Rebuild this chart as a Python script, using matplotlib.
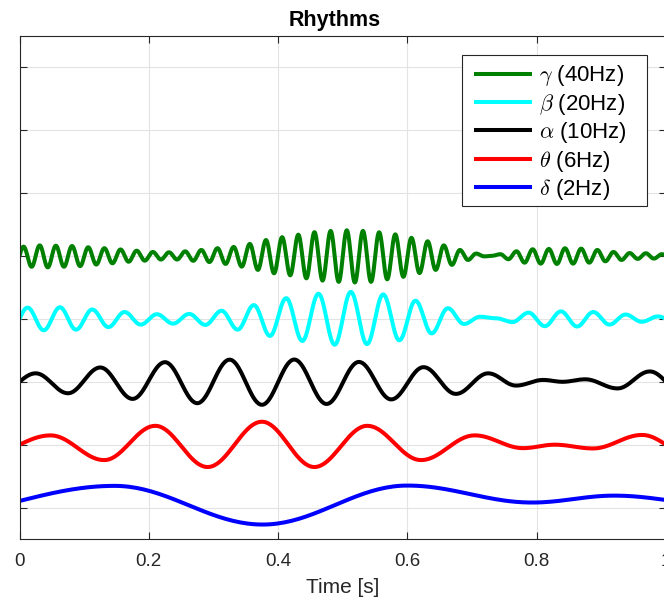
import numpy as np
import matplotlib
matplotlib.use("Agg")
import matplotlib.pyplot as plt
from matplotlib.patches import Rectangle

# ---------------- data ----------------
labels = [r"$\gamma$ (40Hz)", r"$\beta$ (20Hz)", r"$\alpha$ (10Hz)",
          r"$\theta$ (6Hz)", r"$\delta$ (2Hz)"]
colors = ["#008000", "#00ffff", "#000000", "#ff0000", "#0000ff"]
offsets = [5, 4, 3, 2, 1]

# gamma: signed extremum values at every half cycle of 40 Hz
gamma_freq = 40
gamma_extrema = [
    0.15, -0.17, 0.17, -0.18, 0.165, -0.17, 0.16, -0.16, 0.14, -0.135,
    0.125, -0.115, 0.105, -0.09, 0.085, -0.073, 0.065, -0.055, 0.06, -0.055,
    0.075, -0.075, 0.097, -0.095, 0.125, -0.125, 0.145, -0.168, 0.193, -0.22,
    0.255, -0.274, 0.30, -0.306, 0.34, -0.354, 0.38, -0.39, 0.40, -0.41,
    0.41, -0.42, 0.40, -0.41, 0.378, -0.37, 0.345, -0.33, 0.29, -0.27,
    0.235, -0.22, 0.17, -0.14, 0.097, -0.062, 0.04, -0.005, 0.005, 0.03,
    -0.05, 0.076, -0.105, 0.108, -0.12, 0.113, -0.125, 0.124, -0.12, 0.118,
    -0.105, 0.097, -0.083, 0.065, -0.062, 0.048, -0.045, 0.045, -0.04, 0.03]

# beta: signed extremum values at every half cycle of 20 Hz
beta_freq = 20
beta_extrema = [
    0.18, -0.18, 0.185, -0.17, 0.15, -0.13, 0.11, -0.09, 0.075, -0.075,
    0.08, -0.095, 0.13, -0.17, 0.22, -0.27, 0.33, -0.35, 0.40, -0.41,
    0.43, -0.40, 0.39, -0.34, 0.29, -0.23, 0.17, -0.08, 0.035, 0.01,
    -0.05, 0.10, -0.115, 0.12, -0.12, 0.11, -0.09, 0.07, -0.045, 0.04]

# alpha, theta, delta: extremum times [s] and values
alpha_t = [0, 0.025, 0.075, 0.125, 0.175, 0.225, 0.275, 0.325, 0.375, 0.425,
           0.475, 0.525, 0.575, 0.625, 0.675, 0.725, 0.768, 0.81, 0.84, 0.875,
           0.925, 0.975, 1.0]
alpha_v = [0, 0.135, -0.182, 0.228, -0.272, 0.312, -0.34, 0.352, -0.365, 0.354,
           -0.352, 0.316, -0.28, 0.233, -0.192, 0.135, -0.06, 0.03, 0.0, 0.04,
           -0.105, 0.165, 0.0]

theta_t = [0, 0.048, 0.131, 0.21, 0.291, 0.375, 0.456, 0.538, 0.621, 0.704,
           0.779, 0.828, 0.887, 0.963, 1.0]
theta_v = [0, 0.148, -0.245, 0.30, -0.355, 0.365, -0.355, 0.30, -0.245, 0.148,
           -0.055, 0.0, -0.06, 0.155, 0.0]

delta_t = [0, 0.147, 0.376, 0.60, 0.793, 0.92, 1.0]
delta_v = [0.105, 0.345, -0.27, 0.35, 0.08, 0.19, 0.12]

xticks = [0, 0.2, 0.4, 0.6, 0.8, 1]
xticklabels = ["0", "0.2", "0.4", "0.6", "0.8", "1"]
yticks = [1, 2, 3, 4, 5, 6, 7, 8]

title = "Rhythms"
xlabel = "Time [s]"


# ---------------- helpers ----------------
def regular_knots(freq, extrema):
    n = len(extrema)
    t = [0.0] + [(k + 0.5) / (2 * freq) for k in range(n)] + [1.0]
    v = [0.0] + list(extrema) + [0.0]
    return t, v


def smooth_curve(tk, vk, n=40):
    ts, vs = [], []
    nseg = len(tk) - 1
    for i in range(nseg):
        last = i == nseg - 1
        s = np.linspace(0, 1, n, endpoint=last)
        if i == 0:
            shape = np.sin(np.pi * s / 2)
        elif last:
            shape = 1 - np.cos(np.pi * s / 2)
        else:
            shape = (1 - np.cos(np.pi * s)) / 2
        ts.append(tk[i] + (tk[i + 1] - tk[i]) * s)
        vs.append(vk[i] + (vk[i + 1] - vk[i]) * shape)
    return np.concatenate(ts), np.concatenate(vs)


series = [regular_knots(gamma_freq, gamma_extrema),
          regular_knots(beta_freq, beta_extrema),
          (alpha_t, alpha_v), (theta_t, theta_v), (delta_t, delta_v)]

# ---------------- plot ----------------
plt.rcParams["font.family"] = ["Liberation Sans", "DejaVu Sans"]
plt.rcParams["mathtext.fontset"] = "cm"

W, H = 664, 598
fig = plt.figure(figsize=(W / 100, H / 100), dpi=100)
left, right, top, bottom = 19.5, 666.0, 36.0, 539.0
ax = fig.add_axes([left / W, (H - bottom) / H, (right - left) / W, (bottom - top) / H])

for (tk, vk), off, col, lab in zip(series, offsets, colors, labels):
    t, v = smooth_curve(tk, vk)
    ax.plot(t, v + off, color=col, lw=2.9, label=lab, solid_capstyle="butt")

ax.set_xlim(0, 1)
ax.set_ylim(0.5, 8.5)
ax.set_xticks(xticks)
ax.set_xticklabels(xticklabels)
ax.set_yticks(yticks)
ax.set_yticklabels([])
ax.set_axisbelow(True)
ax.grid(True, color="#e3e3e3", lw=0.8)
for sp in ax.spines.values():
    sp.set_color("#262626")
    sp.set_linewidth(0.8)
ax.tick_params(direction="in", length=5, width=0.8, top=True, right=True,
               colors="#262626", labelsize=13.5, pad=10)
ax.set_xlabel(xlabel, fontsize=15, color="#262626", labelpad=6)
ax.set_title(title, fontsize=15.5, fontweight="bold", x=0.487, pad=7)

# legend box (MATLAB style: wider side padding than top/bottom)
box_l, box_t, box_r, box_b = 462, 55, 647, 206
frame = Rectangle((box_l / W, 1 - box_b / H), (box_r - box_l) / W, (box_b - box_t) / H,
                  transform=fig.transFigure, facecolor="white", edgecolor="#262626",
                  linewidth=0.8, zorder=4.5, clip_on=False)
ax.add_patch(frame)

leg = ax.legend(loc="upper left", bbox_to_anchor=(474 / W, 1 - 63.5 / H),
                bbox_transform=fig.transFigure, frameon=False,
                borderaxespad=0, borderpad=0, fontsize=16, handlelength=2.61,
                handletextpad=0.32, labelspacing=0.15)
leg.set_zorder(5)
for line in leg.get_lines():
    line.set_linewidth(2.9)

fig.savefig("out.png", dpi=100)
